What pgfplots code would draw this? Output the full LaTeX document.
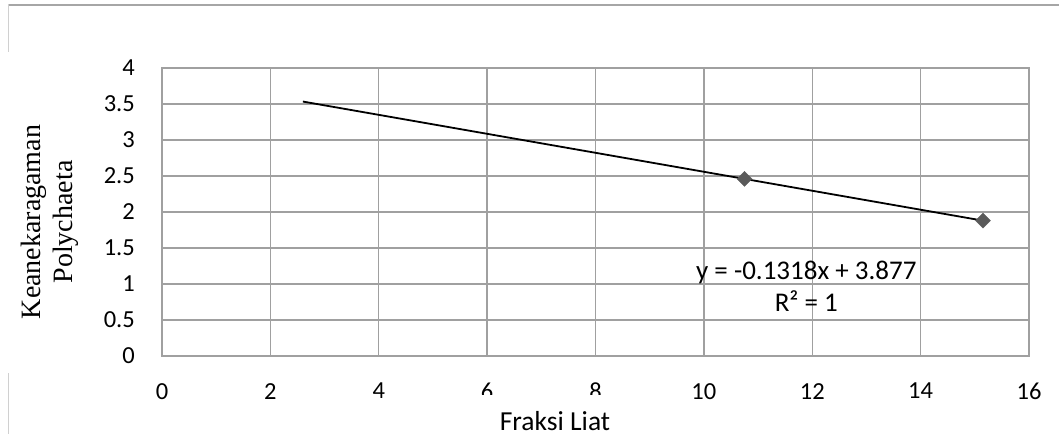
\documentclass[border=0pt]{standalone}
\usepackage{pgfplots}
\pgfplotsset{compat=1.18}
\usepackage{fontspec}
\setmainfont{Carlito}
\newfontfamily\tnr{Liberation Serif}
\definecolor{gridgrey}{HTML}{A0A0A0}
\definecolor{markgrey}{HTML}{5A5A5A}
\definecolor{framegrey}{HTML}{A6A6A6}
\definecolor{lightframe}{HTML}{D0D0D0}
\newcommand{\tickfont}{\fontsize{24.5}{29}\selectfont}
\begin{document}
\begin{tikzpicture}[x=1pt,y=1pt]
\useasboundingbox (0,0) rectangle (1059,434);
\draw[framegrey, line width=1.6pt] (8,429) -- (1059,429);
\draw[lightframe, line width=1pt] (8,429.8) -- (8,382);
\draw[lightframe, line width=1pt] (8,61) -- (8,0);
\begin{axis}[
  at={(162pt,78pt)}, anchor=south west,
  scale only axis, width=867pt, height=288pt,
  xmin=0, xmax=16, ymin=0, ymax=4,
  xtick={0,2,...,16}, ytick={0,0.5,...,4},
  grid=major,
  grid style={gridgrey, line width=1.3pt},
  axis line style={gridgrey, line width=1.3pt},
  major tick length=0pt,
  /pgf/number format/assume math mode=true,
  xticklabel={\tickfont\pgfmathprintnumber[assume math mode=true]{\tick}},
  yticklabel={\tickfont\pgfmathprintnumber[assume math mode=true]{\tick}},
  tick label style={font=\tickfont},
  xticklabel style={inner sep=0pt, anchor=north, yshift=-27pt},
  yticklabel style={inner sep=0pt, anchor=east, xshift=-27pt},
  clip=false,
]
\addplot[only marks, mark=square*, mark size=5.3pt, mark options={rotate=45, fill=markgrey, draw=markgrey}]
  coordinates {(10.75,2.460) (15.15,1.880)};
\addplot[black, line width=1.8pt] coordinates {(2.6,3.534) (15.15,1.880)};
\node[anchor=base, font=\fontsize{27}{32}\selectfont] at (axis cs:11.89,1.069) {y = -0.1318x + 3.877};
\node[anchor=base, font=\fontsize{27}{32}\selectfont] at (axis cs:11.89,0.615) {R² = 1};
\end{axis}
\node[fill=white, anchor=south, minimum width=230pt, minimum height=40pt, inner sep=0pt] at (555,-1) {};
\node[anchor=base, inner sep=0pt, font=\fontsize{27.5}{33}\selectfont] at (555,3.5) {Fraksi Liat};
\node[rotate=90, align=center, font=\tnr\fontsize{28}{32}\selectfont] at (50,212) {Keanekaragaman\\Polychaeta};
\end{tikzpicture}
\end{document}
